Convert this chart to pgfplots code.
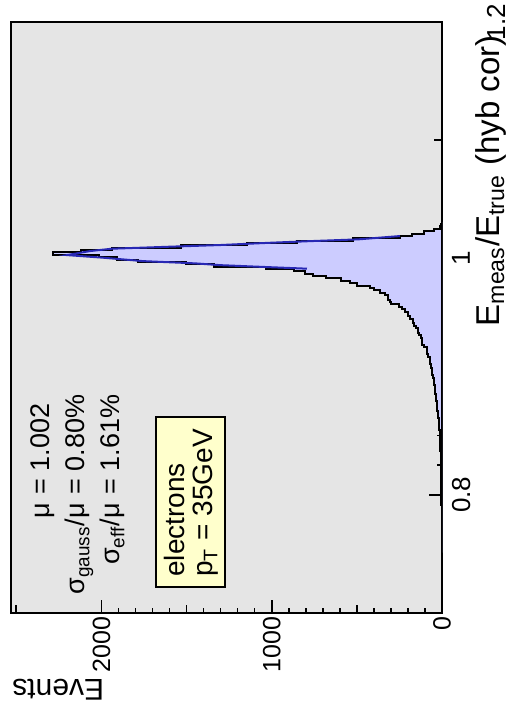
\documentclass[border=0pt]{standalone}
\usepackage{pgfplots}
\pgfplotsset{compat=1.18}
\usepackage{pgfplotstable}
\usepackage{fontspec}
\setmainfont{Liberation Sans}

\definecolor{padgray}{RGB}{229,229,229}
\definecolor{histfill}{RGB}{204,204,255}
\definecolor{fitblue}{RGB}{40,40,180}
\definecolor{boxyellow}{RGB}{255,255,204}

% E_meas/E_true distribution, 0.002 wide bins (lower edge, entries)
\pgfplotstableread{
lo    n
0.751 1
0.753 0
0.755 1
0.757 1
0.759 0
0.761 1
0.763 0
0.765 1
0.767 1
0.769 1
0.771 2
0.773 1
0.775 1
0.777 2
0.779 2
0.781 1
0.783 2
0.785 2
0.787 2
0.789 2
0.791 3
0.793 2
0.795 3
0.797 3
0.799 3
0.801 3
0.803 3
0.805 4
0.807 4
0.809 4
0.811 4
0.813 5
0.815 5
0.817 5
0.819 5
0.821 6
0.823 6
0.825 6
0.827 7
0.829 7
0.831 7
0.833 8
0.835 8
0.837 9
0.839 9
0.841 10
0.843 10
0.845 11
0.847 12
0.849 12
0.851 13
0.853 14
0.855 15
0.857 16
0.859 17
0.861 18
0.863 20
0.865 22
0.867 24
0.869 25
0.871 27
0.873 28
0.875 30
0.877 31
0.879 33
0.881 36
0.883 38
0.885 40
0.887 41
0.889 43
0.891 44
0.893 46
0.895 47
0.897 48
0.899 52
0.901 57
0.903 58
0.905 59
0.907 62
0.909 66
0.911 68
0.913 70
0.915 72
0.917 82
0.919 86
0.921 88
0.923 88
0.925 105
0.927 115
0.929 117
0.931 117
0.933 125
0.935 138
0.937 141
0.939 141
0.941 150
0.943 165
0.945 170
0.947 172
0.949 190
0.951 200
0.953 200
0.955 220
0.957 235
0.959 250
0.961 300
0.963 305
0.965 320
0.967 317
0.969 333
0.971 364
0.973 402
0.975 423
0.977 499
0.979 541
0.981 593
0.983 683
0.985 757
0.987 807
0.989 871
0.991 1035
0.993 1340
0.995 1502
0.997 1787
0.999 1908
1.001 2016
1.003 2284
1.005 2120
1.007 1938
1.009 1531
1.011 1143
1.013 853
1.015 520
1.017 245
1.019 175
1.021 104
1.023 45
1.025 12
1.027 5
1.029 2
1.031 0
}\histdata

% fitted core, as drawn
\pgfplotstableread{
r      n
0.9913 793
0.9930 1086
0.9943 1304
0.9958 1450
0.9977 1756
1.0006 1991
1.0028 2202
1.0062 2067
1.0082 1938
1.0099 1597
1.0113 1304
1.0133 998
1.0147 757
1.0161 493
1.0189 247
}\fitdata

\newcommand{\annot}{\fontsize{13.5}{16}\selectfont}
\newcommand{\boxfont}{\fontsize{14}{17}\selectfont}

\begin{document}
\begin{tikzpicture}[rotate=90, transform shape]
\useasboundingbox (-51.5pt,-33.5pt) rectangle (306.5pt,221pt);
\begin{axis}[
  at={(0,0)}, anchor=south west,
  scale only axis, width=295.5pt, height=215.5pt,
  xmin=0.7, xmax=1.2, ymin=0, ymax=2531,
  axis background/.style={fill=padgray},
  axis line style={line width=1pt},
  tick align=inside, tick pos=left,
  xtick={0.8,1}, xticklabels={0.8,1},
  minor x tick num=7,
  ytick={0,1000,2000}, yticklabels={0,1000,2000},
  minor y tick num=9,
  scaled y ticks=false,
  major tick length=6.5pt, minor tick length=2.3pt,
  every tick/.style={black, line width=0.8pt},
  extra x ticks={0.7,0.9,1.1}, extra x tick labels={},
  extra y ticks={500,1500,2500}, extra y tick labels={},
  extra tick style={major tick length=3.8pt},
  xticklabel style={font=\fontsize{13}{15}\selectfont, yshift=-1.5pt},
  yticklabel style={font=\fontsize{12.5}{15}\selectfont, xshift=1.5pt},
  /pgf/number format/assume math mode=true,
  clip=true,
]
\addplot[const plot, fill=histfill, draw=black, line width=1pt]
  table[x=lo, y=n] {\histdata} \closedcycle;
\addplot[fitblue, line width=1pt, no marks] table[x=r, y=n] {\fitdata};
\end{axis}

% last x tick label and axis titles
\node[anchor=base, inner sep=0, font=\fontsize{13}{15}\selectfont]
  at (295.5pt,-31.5pt) {1.2};
\node[anchor=base east, inner sep=0, font=\fontsize{16.5}{20}\selectfont]
  at (289pt,-28.5pt) {E\textsubscript{meas}/E\textsubscript{true} (hyb cor)};
\node[rotate=90, anchor=base east, inner sep=0, font=\fontsize{15}{18}\selectfont]
  at (-33.5pt,215pt) {Events};

% fit results
\node[anchor=base east, inner sep=0, font=\annot] at (55pt,196pt) {μ};
\node[anchor=base west, inner sep=0, font=\annot] at (59pt,196pt) {= 1.002};
\node[anchor=base east, inner sep=0, font=\annot] at (55pt,178.5pt) {σ\textsubscript{gauss}/μ};
\node[anchor=base west, inner sep=0, font=\annot] at (59pt,178.5pt) {= 0.80\%};
\node[anchor=base east, inner sep=0, font=\annot] at (55pt,161pt) {σ\textsubscript{eff}/μ};
\node[anchor=base west, inner sep=0, font=\annot] at (59pt,161pt) {= 1.61\%};

% sample label
\draw[line width=1.2pt, fill=boxyellow] (13pt,108.5pt) rectangle (98pt,143pt);
\node[anchor=base west, inner sep=0, font=\boxfont] at (18pt,128.5pt) {electrons};
\node[anchor=base west, inner sep=0, font=\boxfont] at (18pt,114.5pt) {p\textsubscript{T} = 35GeV};
\end{tikzpicture}
\end{document}
